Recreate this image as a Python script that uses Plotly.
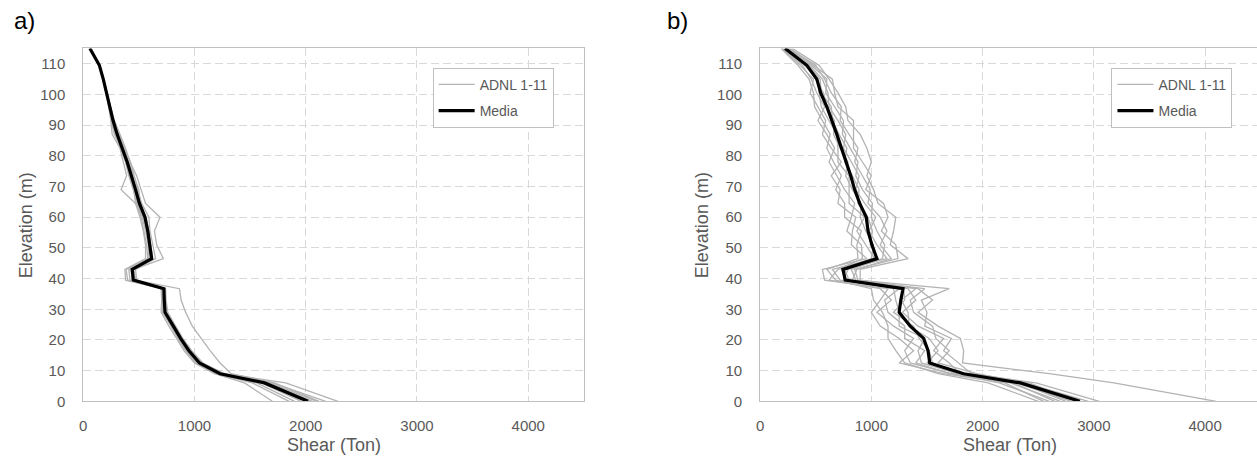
import plotly.graph_objects as go

# Storey elevations (m) at which shears are reported
elevation = [0, 6, 9, 12.5, 16.5, 20.5, 24.5, 29, 33, 36.7, 39.5, 43, 46.5, 51, 55.5,
             60, 64.5, 69, 73.5, 78, 82.5, 87, 91.5, 96, 100.5, 105, 109.5, 115]

# Panel a) – storey shear (Ton) of the 11 nonlinear dynamic analyses
adnl_a = [
    [1700, 1450, 1180, 1000, 905, 835, 770, 700, 705, 700, 400, 385, 580, 570, 545, 520, 480, 450, 410, 380, 335, 290, 255, 232, 208, 178, 143, 58],
    [1850, 1520, 1200, 1010, 920, 850, 790, 720, 715, 715, 420, 410, 590, 585, 560, 530, 490, 455, 420, 385, 340, 280, 250, 228, 205, 176, 142, 59],
    [1960, 1600, 1220, 1035, 940, 870, 800, 730, 722, 720, 445, 430, 610, 600, 575, 560, 500, 470, 430, 400, 350, 300, 265, 238, 210, 179, 144, 60],
    [2000, 1620, 1225, 1040, 945, 860, 795, 728, 720, 718, 455, 440, 600, 590, 570, 540, 470, 340, 390, 360, 330, 260, 250, 236, 212, 181, 146, 61],
    [2040, 1640, 1235, 1050, 955, 880, 815, 740, 730, 722, 460, 450, 625, 610, 590, 565, 515, 480, 445, 405, 355, 310, 270, 242, 213, 182, 147, 61],
    [2180, 1700, 1250, 1060, 965, 885, 820, 745, 735, 735, 470, 455, 720, 660, 640, 690, 560, 520, 480, 420, 380, 330, 280, 246, 215, 183, 148, 62],
    [2120, 1720, 1330, 1230, 1140, 1060, 980, 920, 880, 865, 470, 445, 610, 600, 590, 560, 510, 500, 455, 410, 360, 320, 278, 244, 214, 181, 146, 60],
    [2290, 1820, 1270, 1070, 970, 890, 825, 750, 735, 730, 440, 430, 620, 600, 585, 545, 500, 470, 440, 400, 355, 310, 272, 241, 212, 180, 145, 60],
    [2060, 1660, 1240, 1045, 950, 875, 805, 735, 725, 725, 450, 445, 615, 605, 585, 560, 505, 465, 435, 395, 348, 300, 266, 240, 211, 179, 145, 60],
    [2100, 1680, 1255, 1075, 975, 895, 830, 760, 745, 740, 480, 470, 650, 625, 600, 590, 525, 490, 455, 425, 370, 320, 275, 243, 214, 182, 146, 60],
    [1900, 1560, 1190, 1020, 925, 855, 785, 712, 712, 710, 380, 375, 560, 560, 540, 510, 470, 455, 420, 390, 340, 290, 258, 236, 210, 178, 144, 59],
]
media_a = [2020, 1630, 1230, 1045, 950, 875, 810, 735, 728, 725, 450, 440, 615, 600, 580, 555,
           505, 470, 435, 395, 350, 305, 268, 240, 212, 180, 145, 60]

# Panel b) – storey shear (Ton) of the 11 nonlinear dynamic analyses
adnl_b = [
    [2500, 2050, 1600, 1300, 1220, 1150, 1150, 1100, 1020, 1000, 680, 600, 880, 870, 910, 760, 760, 680, 730, 660, 600, 630, 560, 490, 480, 440, 340, 190],
    [2550, 2200, 1650, 1250, 1380, 1250, 1080, 1000, 1080, 1150, 580, 560, 960, 820, 830, 860, 700, 720, 640, 730, 640, 560, 590, 520, 450, 480, 360, 200],
    [2600, 2150, 1720, 1350, 1300, 1380, 1200, 1050, 1180, 1080, 620, 700, 920, 910, 780, 820, 850, 760, 690, 620, 670, 600, 520, 580, 510, 460, 380, 210],
    [2650, 2280, 1700, 1400, 1480, 1300, 1300, 1150, 1120, 1250, 720, 650, 1030, 950, 870, 940, 800, 800, 800, 700, 700, 690, 620, 550, 530, 520, 400, 220],
    [2700, 2250, 1780, 1450, 1420, 1480, 1250, 1250, 1220, 1200, 780, 730, 1000, 1020, 950, 900, 910, 830, 770, 790, 720, 660, 670, 600, 570, 500, 415, 225],
    [2750, 2330, 1750, 1550, 1520, 1430, 1380, 1200, 1300, 1290, 750, 790, 1060, 990, 1010, 970, 880, 890, 830, 760, 780, 710, 650, 640, 550, 540, 430, 230],
    [2800, 2300, 1850, 1500, 1600, 1520, 1340, 1330, 1270, 1400, 800, 760, 1140, 1050, 980, 1040, 940, 860, 890, 820, 750, 770, 700, 620, 610, 560, 445, 240],
    [2850, 2420, 1800, 1700, 1560, 1650, 1420, 1280, 1400, 1330, 860, 820, 1100, 1120, 1050, 1000, 1010, 920, 860, 880, 810, 740, 750, 670, 590, 600, 460, 250],
    [2950, 2380, 1950, 1600, 1700, 1580, 1550, 1380, 1350, 1480, 830, 870, 1180, 1080, 1140, 1080, 970, 990, 920, 850, 880, 800, 720, 730, 640, 580, 500, 260],
    [3050, 2480, 1900, 1780, 1650, 1720, 1480, 1500, 1450, 1700, 880, 850, 1240, 1220, 1090, 1150, 1110, 950, 1000, 920, 840, 840, 840, 700, 670, 650, 480, 270],
    [4100, 3180, 2600, 1820, 1830, 1800, 1600, 1420, 1550, 1420, 900, 900, 1330, 1170, 1200, 1220, 1060, 1020, 960, 1000, 960, 900, 790, 770, 700, 620, 530, 290],
]
media_b = [2875, 2340, 1830, 1525, 1510, 1470, 1350, 1250, 1265, 1285, 765, 745, 1050, 1005, 970, 955,
           895, 850, 815, 775, 735, 690, 645, 600, 545, 510, 420, 225]

panel_labels = ["a)", "b)"]
x_title = "Shear (Ton)"
y_title = "Elevation (m)"
x_ticks = [0, 1000, 2000, 3000, 4000]
y_ticks = [0, 10, 20, 30, 40, 50, 60, 70, 80, 90, 100, 110]

W, H = 1257, 468
FONT = "Liberation Sans, Arial, sans-serif"
TXT = "#595959"
GREY = "#b3b3b3"
GRID = "#d9d9d9"
FRAME = "#c0c0c0"

# pixel geometry of the two plot areas
plot_top, plot_bot = 49.3, 408.3
px_per_ton = 0.1116
a_left, b_left = 79.5, 758.5

fig = go.Figure()


def add_panel(adnl, media, xa, ya, legend):
    for i, series in enumerate(adnl):
        fig.add_trace(go.Scatter(
            x=series, y=elevation, mode="lines", xaxis=xa, yaxis=ya,
            line=dict(color=GREY, width=1.3), name="ADNL 1-11",
            legend=legend, legendgroup=legend + "adnl", showlegend=(i == 0),
            hoverinfo="skip"))
    fig.add_trace(go.Scatter(
        x=media, y=elevation, mode="lines", xaxis=xa, yaxis=ya,
        line=dict(color="black", width=3.2), name="Media",
        legend=legend, legendgroup=legend + "media", hoverinfo="skip"))


add_panel(adnl_a, media_a, "x", "y", "legend")
add_panel(adnl_b, media_b, "x2", "y2", "legend2")

ydom = [1 - plot_bot / H, 1 - plot_top / H]
a_right = a_left + 4500 * px_per_ton
b_xmax = (W - b_left) / px_per_ton

common_x = dict(
    tickvals=x_ticks, showgrid=True, gridcolor=GRID, griddash="8px,4px", gridwidth=1,
    zeroline=False, showline=True, linecolor=FRAME, linewidth=1,
    ticks="", tickfont=dict(family=FONT, size=15, color=TXT), ticklabelstandoff=11,
    fixedrange=True)
common_y = dict(
    range=[0, 115], tickvals=y_ticks, showgrid=True, gridcolor=GRID, griddash="8px,4px",
    gridwidth=1, zeroline=False, showline=True, linecolor=FRAME, linewidth=1,
    ticks="", tickfont=dict(family=FONT, size=15, color=TXT), ticklabelstandoff=14,
    fixedrange=True)

legend_common = dict(
    xanchor="left", yanchor="top", bgcolor="white", bordercolor=FRAME, borderwidth=1,
    font=dict(family=FONT, size=14, color=TXT), traceorder="grouped", tracegroupgap=5,
    itemwidth=36)

fig.update_layout(
    width=W, height=H, margin=dict(l=0, r=0, t=0, b=0),
    paper_bgcolor="white", plot_bgcolor="white",
    xaxis=dict(common_x, domain=[a_left / W, a_right / W], range=[0, 4500], mirror=True,
               anchor="y"),
    yaxis=dict(common_y, domain=ydom, mirror=True, anchor="x"),
    xaxis2=dict(common_x, domain=[b_left / W, 1.0], range=[0, b_xmax], mirror=True,
                anchor="y2"),
    yaxis2=dict(common_y, domain=ydom, mirror=False, anchor="x2"),
    legend=dict(legend_common, x=430 / W, y=1 - 69 / H),
    legend2=dict(legend_common, x=1111 / W, y=1 - 69 / H),
    showlegend=True,
)

annotations = []
for lbl, xpos in zip(panel_labels, [8, 663]):
    annotations.append(dict(text=lbl, x=xpos / W, y=1 - 21 / H, xref="paper", yref="paper",
                            xanchor="left", yanchor="middle", showarrow=False,
                            font=dict(family=FONT, size=24, color="black")))
for left, right in [(a_left, a_right), (b_left, b_left + 4500 * px_per_ton)]:
    annotations.append(dict(text=x_title, x=(left + right) / 2 / W, y=1 - 453 / H,
                            xref="paper", yref="paper", xanchor="center", yanchor="middle",
                            showarrow=False, font=dict(family=FONT, size=18, color=TXT)))
    annotations.append(dict(text=y_title, x=(left - 58) / W,
                            y=1 - (plot_top + plot_bot) / 2 / H, xref="paper", yref="paper",
                            xanchor="center", yanchor="middle", textangle=-90,
                            showarrow=False, font=dict(family=FONT, size=18, color=TXT)))
fig.update_layout(annotations=annotations)

fig.write_html("out.html")
